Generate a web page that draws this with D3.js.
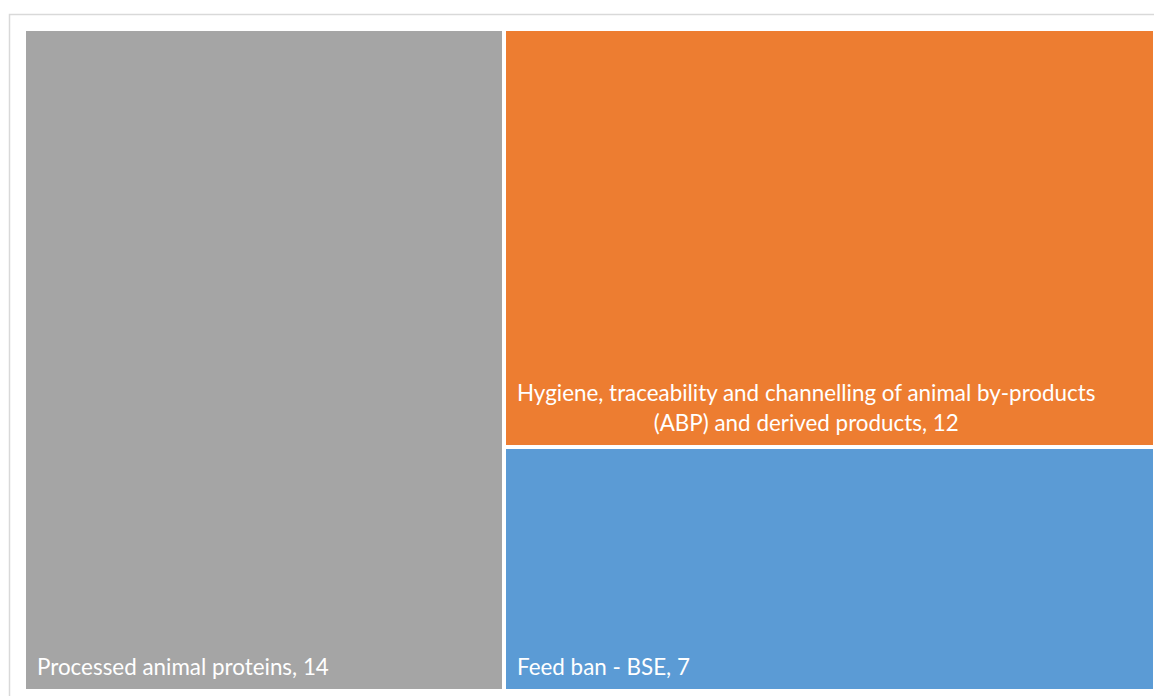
<!DOCTYPE html>
<html>
<head>
<meta charset="utf-8">
<script src="https://cdn.jsdelivr.net/npm/d3@7"></script>
<style>
  html, body { margin: 0; padding: 0; background: #ffffff; }
  svg { display: block; }
</style>
</head>
<body>
<svg id="chart" width="1154" height="696"></svg>
<script>
// Findings by topic
const categories = [
  "Processed animal proteins",
  "Hygiene, traceability and channelling of animal by-products (ABP) and derived products",
  "Feed ban - BSE"
];
const counts = [14, 12, 7];
const colors = ["#A5A5A5", "#ED7D31", "#5B9BD5"];
// label alignment per tile
const labelAlign = ["left", "center", "left"];

const W = 1154, H = 696;
const svg = d3.select("#chart");

// chart frame
svg.append("rect")
  .attr("x", 9.5).attr("y", 14.5)
  .attr("width", W + 10).attr("height", H + 10)
  .attr("fill", "#ffffff")
  .attr("stroke", "#d9d9d9")
  .attr("stroke-width", 1.5);

const plot = { x: 26, y: 31, w: 1127, h: 658 };

const root = d3.hierarchy({
    children: categories.map((name, i) => ({ name, value: counts[i], color: colors[i], align: labelAlign[i] }))
  })
  .sum(d => d.value || 0);

d3.treemap()
  .tile(d3.treemapSquarify.ratio(1))
  .size([plot.w, plot.h])
  .paddingInner(4)
  .round(true)(root);

const leaves = root.leaves();

const gPlot = svg.append("g").attr("transform", `translate(${plot.x},${plot.y})`);

const cell = gPlot.selectAll("g.cell")
  .data(leaves)
  .join("g")
  .attr("class", "cell");

cell.append("rect")
  .attr("x", d => d.x0)
  .attr("y", d => d.y0)
  .attr("width", d => d.x1 - d.x0)
  .attr("height", d => d.y1 - d.y0)
  .attr("fill", d => d.data.color);

const fontSize = 22.4;
const lineH = 30;
const padX = 11, padB = 14;

cell.each(function(d) {
  const g = d3.select(this);
  const label = `${d.data.name}, ${d.data.value}`;
  const maxW = (d.x1 - d.x0) - 2 * padX;
  const text = g.append("text")
    .attr("fill", "#ffffff")
    .attr("font-family", "Lato, 'Open Sans', sans-serif")
    .attr("font-size", fontSize);

  // greedy word wrap
  const words = label.split(" ");
  const lines = [];
  let cur = "";
  const probe = text.append("tspan");
  for (const w of words) {
    const trial = cur ? cur + " " + w : w;
    probe.text(trial);
    if (probe.node().getComputedTextLength() > maxW && cur) {
      lines.push(cur);
      cur = w;
    } else {
      cur = trial;
    }
  }
  if (cur) lines.push(cur);
  const widths = lines.map(l => { probe.text(l); return probe.node().getComputedTextLength(); });
  probe.remove();
  const blockW = d3.max(widths);

  const baseY = d.y1 - padB - (lines.length - 1) * lineH;
  lines.forEach((l, i) => {
    const t = text.append("tspan").text(l).attr("y", baseY + i * lineH);
    if (d.data.align === "center") {
      t.attr("x", d.x0 + padX + blockW / 2).attr("text-anchor", "middle");
    } else {
      t.attr("x", d.x0 + padX).attr("text-anchor", "start");
    }
  });
});
</script>
</body>
</html>
